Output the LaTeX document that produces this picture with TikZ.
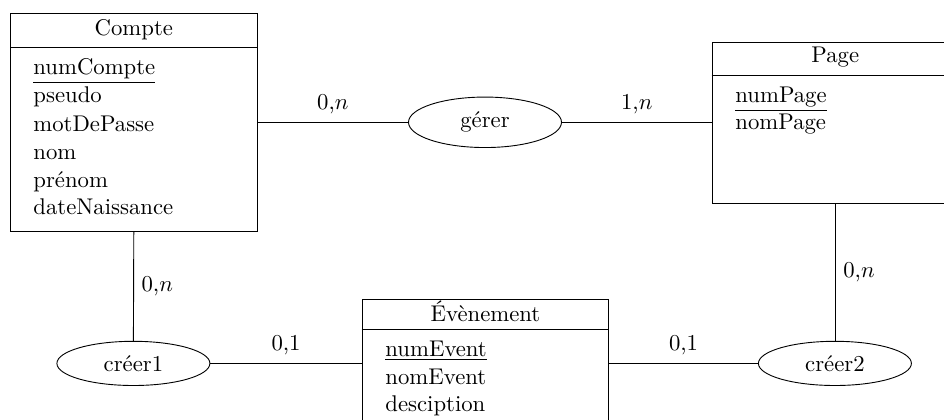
\documentclass[tikz,border=0pt]{standalone}
\usetikzlibrary{shapes.geometric}
% one drawing unit
\newcommand\pu{0.44pt}
\tikzset{
  entbox/.style={draw, rectangle, inner sep=0pt, anchor=north west},
  relation/.style={draw, ellipse, minimum width=153*\pu, inner xsep=4pt},
  enttitle/.style={anchor=base, inner sep=0pt},
  attr/.style={anchor=base west, inner sep=0pt},
  link/.style={draw},
  card/.style={midway}
}
\begin{document}
\begin{tikzpicture}[x=\pu, y=-\pu, line width=0.4pt]
\clip (0,0) rectangle (944,420);

% --- entity Compte ---
\node[entbox, minimum width=246.7*\pu, minimum height=217.2*\pu] (compte) at (10,13.5) {};
\draw ([yshift=-34*\pu]compte.north west) -- ([yshift=-34*\pu]compte.north east);
\node[enttitle] (compteT) at (compte.north |- 0,36) {Compte};
\node[attr] (c1) at (33,75) {\underline{numCompte}};
\node[attr] (c2) at (33,103) {pseudo};
\node[attr] (c3) at (33,131) {motDePasse};
\node[attr] (c4) at (33,159) {nom};
\node[attr] (c5) at (33,187) {prénom};
\node[attr] (c6) at (33,214.5) {dateNaissance};

% --- entity Page ---
\node[entbox, minimum width=246.7*\pu, minimum height=161.6*\pu] (page) at (711.5,41.7) {};
\draw ([yshift=-33.8*\pu]page.north west) -- ([yshift=-33.8*\pu]page.north east);
\node[enttitle] (pageT) at (page.north |- 0,63) {Page};
\node[attr] (p1) at (735,102.5) {\underline{numPage}};
\node[attr] (p2) at (735,130) {nomPage};

% --- entity Évènement ---
\node[entbox, minimum width=246.6*\pu, minimum height=130*\pu] (event) at (361.7,299.3) {};
\draw ([yshift=-29.7*\pu]event.north west) -- ([yshift=-29.7*\pu]event.north east);
\node[enttitle] (eventT) at (event.north |- 0,321) {Évènement};
\node[attr] (e1) at (385,356) {\underline{numEvent}};
\node[attr] (e2) at (385,384) {nomEvent};
\node[attr] (e3) at (385,411.7) {desciption};

% --- associations ---
\node[relation] (gerer) at (485,122.3) {gérer};
\node[relation] (creer1) at (133.4,363.4) {créer1};
\node[relation] (creer2) at (834.9,363.4) {créer2};

% --- links with cardinalities ---
\draw[link] (compte.east |- gerer) -- node[card, above] {0,$n$} (gerer.west);
\draw[link] (gerer.east) -- node[card, above] {1,$n$} (page.west |- gerer);
\draw[link] (compte.south) -- node[card, right] {0,$n$} (creer1.north);
\draw[link] (creer1.east) -- node[card, above] {0,1} (event.west |- creer1);
\draw[link] (event.east |- creer2) -- node[card, above] {0,1} (creer2.west);
\draw[link] (page.south) -- node[card, right] {0,$n$} (page.south |- creer2.north);
\end{tikzpicture}
\end{document}
